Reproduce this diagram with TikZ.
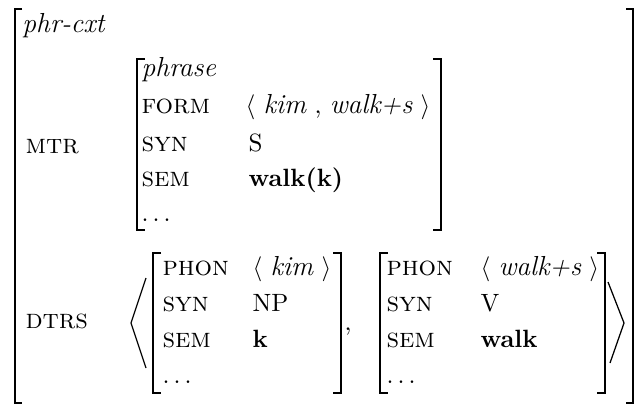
\documentclass[tikz,border=0pt]{standalone}
\newcommand{\itl}[1]{{\fontsize{11}{13}\selectfont\itshape #1}}
\begin{document}
\begin{tikzpicture}[x=0.4pt,y=-0.4pt,
  lbl/.style={anchor=base west,inner sep=0pt},
  feat/.style={lbl,font=\fontsize{11}{13}\selectfont\scshape},
  typ/.style={lbl,font=\fontsize{11}{13}\selectfont\itshape},
  brk/.style={line width=0.8pt},
  ang/.style={line width=0.5pt}]
\useasboundingbox (0,0) rectangle (638,405);

% outer phr-cxt matrix
\draw[brk] (22,9) -- (15,9) -- (15,403) -- (22,403);
\draw[brk] (626,9) -- (633,9) -- (633,403) -- (626,403);
\node[typ] (type) at (22,33) {phr-cxt};
\node[feat] (mtr) at (25,154) {mtr};
\node[feat] (dtrs) at (25,328) {dtrs};

% mother
\draw[brk] (145,59) -- (137,59) -- (137,230) -- (145,230);
\draw[brk] (433,59) -- (441,59) -- (441,230) -- (433,230);
\node[typ] (mtype) at (141,77) {phrase};
\node[feat] (mform) at (141,114) {form};
\node[lbl] (mformv) at (245,114) {$\langle$ \itl{kim} , \itl{walk+s} $\rangle$};
\node[feat] (msyn) at (141,152) {syn};
\node[lbl] (msynv) at (248,152) {S};
\node[feat] (msem) at (141,187) {sem};
\node[lbl] (msemv) at (248,187) {\textbf{walk(k)}};
\node[lbl] (mdots) at (141,221) {$\ldots$};

% daughters list
\draw[ang] (146,278) -- (131,323) -- (146,368);
\draw[ang] (608,282) -- (624,323) -- (610,363);

% first daughter
\draw[brk] (161,253) -- (153,253) -- (153,393) -- (161,393);
\draw[brk] (333,253) -- (341,253) -- (341,393) -- (333,393);
\node[feat] (aphon) at (162,275) {phon};
\node[lbl] (aphonv) at (252,275) {$\langle$ \itl{kim} $\rangle$};
\node[feat] (asyn) at (162,311) {syn};
\node[lbl] (asynv) at (252,311) {NP};
\node[feat] (asem) at (162,347) {sem};
\node[lbl] (asemv) at (252,347) {\textbf{k}};
\node[lbl] (adots) at (162,383) {$\ldots$};

\node[lbl] (comma) at (344,330) {,};

% second daughter
\draw[brk] (388,253) -- (380,253) -- (380,393) -- (388,393);
\draw[brk] (597,253) -- (605,253) -- (605,393) -- (597,393);
\node[feat] (bphon) at (386,275) {phon};
\node[lbl] (bphonv) at (480,275) {$\langle$ \itl{walk+s} $\rangle$};
\node[feat] (bsyn) at (386,311) {syn};
\node[lbl] (bsynv) at (480,311) {V};
\node[feat] (bsem) at (386,347) {sem};
\node[lbl] (bsemv) at (480,347) {\textbf{walk}};
\node[lbl] (bdots) at (386,383) {$\ldots$};
\end{tikzpicture}
\end{document}
